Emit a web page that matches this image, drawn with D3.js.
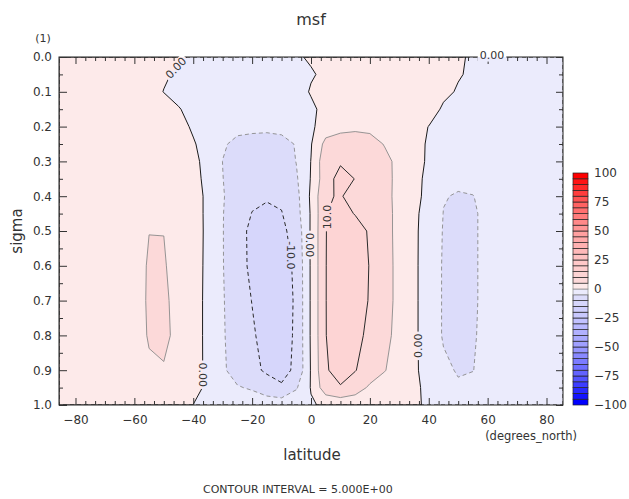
<!DOCTYPE html>
<html lang="en">
<head>
<meta charset="utf-8">
<title>msf</title>
<script src="https://d3js.org/d3.v7.min.js"></script>
<style>
  body { margin: 0; background: #fff; }
  svg { display: block; }
  text { fill: #333; font-family: 'DejaVu Sans', sans-serif; }
</style>
</head>
<body>
<svg width="629" height="499"></svg>
<script>
// grid: latitude columns, sigma rows
const lats = [-85.6, -80, -75, -70, -65, -60, -55, -50, -45, -40, -35, -30, -25, -20, -15, -10, -5, 0,
  5, 10, 15, 20, 25, 30, 35, 40, 45, 50, 55, 60, 65, 70, 75, 80, 85.6]
const sigmas = [0, 0.05, 0.1, 0.15, 0.2, 0.25, 0.3, 0.35, 0.4, 0.45, 0.5, 0.6, 0.7, 0.8, 0.9, 0.95, 1.0]

// meridional streamfunction, one row per sigma level
const msf = [
  [0.5, 1, 1.5, 1.5, 1.5, 1.5, 1.5, 1.2, 0.5, -0.4, -1.2, -1.5, -1.5, -1.5, -1.5, -1.2, -0.5, 0.5, 1.0, 1.2, 1.2, 1.2, 1.2, 1.2, 1.1, 1.0, 0.8, 0.3, -0.3, -0.8, -1, -1, -1, -1, -0.8],
  [1, 1.5, 2, 2, 2, 2, 2, 0.5, -0.6, -1.5, -2, -2, -2, -2, -2, -2, -1.5, -0.4, 0.8, 2, 2, 2, 2, 2, 2, 2, 2, 0.4, -0.8, -1.5, -1.5, -1.5, -1.5, -1.5, -1.2],
  [1.5, 2, 2.5, 2.5, 2.5, 2.5, 1.5, -0.1, -1.5, -2.5, -3, -3, -3, -3, -3, -3, -2, 0.4, 2, 3, 3, 3, 3, 3, 3, 3, 1.2, -0.5, -2, -2, -2, -2, -2, -2, -1.5],
  [1.5, 2, 2.5, 2.5, 2.5, 2.5, 2.5, 2, 0.3, -1.5, -3, -3.8, -3.8, -3.8, -3.8, -3.8, -3, -1, 1.5, 3.8, 3.8, 3.8, 3.8, 3.8, 3.8, 2.5, -0.8, -2.5, -2.5, -2.5, -2.5, -2.3, -2.2, -2, -1.8],
  [1.5, 2, 2.5, 2.5, 2.5, 2.5, 2.5, 2.5, 1.5, -0.6, -2.5, -3.8, -4.1, -4.2, -4.3, -4.1, -3.5, -0.8, 2.2, 3.8, 4.2, 4.0, 3.6, 3, 1.8, -0.1, -2, -2.5, -2.5, -2.5, -2.5, -2.3, -2.2, -2, -1.8],
  [1.5, 2, 2.5, 2.5, 2.5, 2.5, 2.5, 2.5, 2, 0.4, -1.8, -4.6, -5.8, -6.2, -6.3, -6, -4.8, -0.3, 6.5, 7, 7, 6.5, 4.8, 3, 1.5, -0.5, -2.5, -3, -2.8, -2.6, -2.5, -2.3, -2.2, -2, -1.8],
  [1.5, 2, 2.8, 2.8, 2.8, 2.8, 2.8, 2.8, 2.5, 1.2, -1.6, -5.05, -7, -7.8, -8, -7.5, -4.9, 0.1, 8.5, 9.5, 9.2, 8, 6, 4, 1.8, -0.7, -3, -3.5, -3.2, -2.8, -2.6, -2.4, -2.2, -2, -1.8],
  [1.5, 2, 2.8, 2.8, 2.8, 2.8, 2.8, 2.8, 2.5, 1.5, -1.3, -4.9, -7.5, -8.8, -9.3, -8.8, -5.6, 0.3, 8.2, 11.5, 9.9, 8.5, 6.3, 3.8, 1.0, -0.8, -3.5, -4.2, -3.8, -2.8, -2.6, -2.4, -2.2, -2, -1.8],
  [1.5, 2, 2.8, 2.8, 2.8, 2.8, 3.2, 3.2, 2.7, 1.8, -0.9, -4.6, -7.8, -9.3, -9.6, -9.2, -6.5, 0.8, 9.75, 10.2, 9.0, 8.8, 6.5, 3.5, 0.8, -0.8, -4.8, -5.3, -5.1, -3.8, -3, -2.5, -2.2, -2, -1.8],
  [1.5, 2, 2.8, 3, 3.2, 3.6, 4.5, 4.5, 3.5, 2, -1, -4.8, -8.2, -10.1, -10.8, -10.2, -7, 0.5, 9.8, 11.5, 9.8, 8.6, 6.4, 3.8, 0.6, -1.2, -5.1, -6.2, -5.3, -4.4, -3.2, -2.6, -2.2, -2, -1.8],
  [1.5, 2, 2.8, 3, 3.2, 3.6, 4.95, 4.95, 3.8, 2.1, -1, -4.8, -9, -10.6, -11.3, -11, -8.2, 0.6, 9.9, 12, 11.8, 9.5, 6.4, 3.8, 0.6, -1.5, -5.3, -6.6, -5.3, -4.4, -3.2, -2.6, -2.2, -2, -1.8],
  [1.5, 2, 2.8, 3, 3.2, 3.3, 5.4, 5.3, 3.6, 2.1, -1.1, -4.8, -8.3, -10.9, -12.3, -12, -9.1, 0.6, 9.9, 12.8, 12.5, 9.8, 6.6, 3.8, 0.6, -1.6, -5.5, -7, -5.3, -4.4, -3.2, -2.6, -2.2, -2, -1.8],
  [1.5, 2, 2.8, 3, 3.2, 3.3, 5.5, 6, 3.2, 1.9, -1.1, -4.6, -8, -10.1, -12.6, -12.5, -9.3, 0.6, 9.9, 13, 12.6, 9.6, 6.6, 3.8, 0.6, -1.6, -5.5, -7, -5.3, -4.4, -3.2, -2.6, -2.2, -2, -1.8],
  [1.5, 2, 2.8, 3, 3.2, 3.4, 5.3, 6.2, 3.5, 1.9, -1.1, -4.5, -7.5, -9.5, -11.5, -12, -9.3, 0.6, 9.9, 12.5, 11.5, 8.8, 6.2, 3.6, 0.6, -1.6, -5.5, -7, -5.2, -4.4, -3.2, -2.6, -2.2, -2, -1.8],
  [1.5, 2, 2.6, 2.8, 3, 3.3, 4.5, 4.6, 3.2, 1.8, -1, -4.2, -7.3, -9, -10.6, -11, -9.4, 0.4, 9.6, 11.5, 10.2, 7.8, 5.2, 3, 0.6, -1.4, -4, -5.4, -5.05, -4.2, -3, -2.5, -2.2, -2, -1.8],
  [1.2, 1.5, 2, 2.2, 2.4, 2.6, 3.3, 3.4, 2.5, 1.3, -0.8, -3.5, -4.6, -5.6, -8, -9.6, -5.5, 0.3, 8, 9.7, 7.5, 4.2, 3, 2, 0.8, -1, -3.2, -4.4, -4.4, -3.6, -2.8, -2.3, -2, -1.8, -1.6],
  [0.8, 1, 1.2, 1.3, 1.4, 1.5, 1.5, 1.5, 1.2, -0.05, -1, -1.5, -1.8, -1.8, -1.8, -1.8, -1.5, -0.5, 0.8, 1.5, 1.5, 1.5, 1.5, 1.5, 0.5, -0.5, -1.2, -1.2, -1.2, -1.2, -1.2, -1.2, -1.1, -1, -0.8]
]

const levels = d3.range(-100, 105, 5)
const latTicks = [-80, -60, -40, -20, 0, 20, 40, 60, 80]
const sigmaTicks = [0, 0.1, 0.2, 0.3, 0.4, 0.5, 0.6, 0.7, 0.8, 0.9, 1.0]
const barTicks = [-100, -75, -50, -25, 0, 25, 50, 75, 100]

// contour labels: where they sit on the lines
const labels = [
  { lat: -45.8, sig: 0.032, angle: -46, text: '0.00' },
  { lat: -36.9, sig: 0.913, angle: 90, text: '0.00' },
  { lat: -0.4, sig: 0.54, angle: 90, text: '0.00' },
  { lat: -7.0, sig: 0.57, angle: 90, text: '-10.0' },
  { lat: 5.6, sig: 0.46, angle: -90, text: '10.0' },
  { lat: 36.4, sig: 0.83, angle: -90, text: '0.00' },
  { lat: 61.5, sig: -0.004, angle: 0, text: '0.00' }
]

const svg = d3.select('svg')
const x = d3.scaleLinear().domain([-85.6, 85.6]).range([59, 563])
const y = d3.scaleLinear().domain([0, 1]).range([57, 405])

const posColor = d3.scaleLinear()
  .domain([2.5, 7.5, 25, 50, 75, 97.5])
  .range(['#fdeaea', '#fcd9d9', '#ffc6c6', '#ff9c9c', '#ff5c5c', '#ff0000'])
const negColor = d3.scaleLinear()
  .domain([-2.5, -7.5, -25, -50, -75, -97.5])
  .range(['#ebebfc', '#dcdcfa', '#c6c6ff', '#9c9cff', '#5c5cff', '#0000ff'])
const bandColor = (mid) => (mid > 0 ? posColor(mid) : negColor(mid))

// grid index -> lat / sigma
const nx = lats.length
const ny = sigmas.length
const values = msf.flat()
const colLat = d3.scaleLinear().domain(d3.range(nx)).range(lats).clamp(true)
const rowSig = d3.scaleLinear().domain(d3.range(ny)).range(sigmas).clamp(true)
const project = ([cx, cy]) => [x(colLat(cx - 0.5)), y(rowSig(cy - 0.5))]
const toPath = (geom) =>
  geom.coordinates
    .map((poly) =>
      poly.map((ring) => 'M' + ring.map((p) => project(p).map((v) => v.toFixed(2)).join(',')).join('L') + 'Z').join('')
    )
    .join('')

const contours = d3.contours().size([nx, ny]).thresholds(levels)(values)

const defs = svg.append('defs')
defs.append('clipPath').attr('id', 'plotclip')
  .append('rect').attr('x', 59).attr('y', 57).attr('width', 504).attr('height', 348)
const mask = defs.append('mask').attr('id', 'lblmask')
  .attr('maskUnits', 'userSpaceOnUse').attr('x', 0).attr('y', 0).attr('width', 629).attr('height', 499)
mask.append('rect').attr('width', 629).attr('height', 499).attr('fill', 'white')

const plot = svg.append('g').attr('clip-path', 'url(#plotclip)')

plot.append('g')
  .selectAll('path')
  .data(contours)
  .join('path')
  .attr('d', (d) => toPath(d))
  .attr('fill', (d) => bandColor(d.value + 2.5))

const [vmin, vmax] = d3.extent(values)
const masked = svg.append('g').attr('mask', 'url(#lblmask)')

masked.append('g')
  .attr('clip-path', 'url(#plotclip)')
  .selectAll('path')
  .data(contours.filter((d) => d.value > vmin && d.value < vmax))
  .join('path')
  .attr('d', (d) => toPath(d))
  .attr('fill', 'none')
  .attr('stroke', (d) => (d.value === 0 ? '#1a1a1a' : d.value % 10 === 0 ? '#2a2a2a' : '#8a8a8a'))
  .attr('stroke-width', (d) => (d.value % 10 === 0 ? 1 : 0.9))
  .attr('stroke-dasharray', (d) => (d.value < 0 ? '4,3' : null))

// frame and ticks
masked.append('rect')
  .attr('x', 59).attr('y', 57).attr('width', 504).attr('height', 348)
  .attr('fill', 'none').attr('stroke', '#222').attr('stroke-width', 1)

const minorLat = d3.range(-80, 81, 20 / 6).filter((v) => !latTicks.some((t) => Math.abs(t - v) < 0.01))
const minorSig = [0.05, 0.15, 0.25, 0.35, 0.45, 0.55, 0.65, 0.75, 0.85, 0.95]

function ticks(axis, pos, vals, size) {
  const g = masked.append('g').attr('transform', pos)
    .call(axis.tickValues(vals).tickSize(size).tickFormat(''))
  g.select('.domain').remove()
  g.selectAll('line').attr('stroke', '#333')
}
ticks(d3.axisBottom(x), 'translate(0,405)', latTicks, -7)
ticks(d3.axisBottom(x), 'translate(0,405)', minorLat, -4)
ticks(d3.axisTop(x), 'translate(0,57)', latTicks, -7)
ticks(d3.axisTop(x), 'translate(0,57)', minorLat, -4)
ticks(d3.axisLeft(y), 'translate(59,0)', sigmaTicks, -8)
ticks(d3.axisLeft(y), 'translate(59,0)', minorSig, -4)
ticks(d3.axisRight(y), 'translate(563,0)', sigmaTicks, -7)
ticks(d3.axisRight(y), 'translate(563,0)', minorSig, -4)

// tick labels
const xl = svg.append('g').attr('transform', 'translate(0,405)')
  .call(d3.axisBottom(x).tickValues(latTicks).tickSize(0).tickPadding(10).tickFormat(d3.format('d')))
xl.select('.domain').remove()
xl.selectAll('text').attr('font-size', 12).attr('font-family', "'DejaVu Sans', sans-serif").attr('fill', '#333')

const yl = svg.append('g').attr('transform', 'translate(59,0)')
  .call(d3.axisLeft(y).tickValues(sigmaTicks).tickSize(0).tickPadding(7).tickFormat(d3.format('.1f')))
yl.select('.domain').remove()
yl.selectAll('text').attr('font-size', 12).attr('font-family', "'DejaVu Sans', sans-serif").attr('fill', '#333')

// contour labels and their gaps in the lines
const lblG = svg.append('g')
labels.forEach((l) => {
  const px = x(l.lat)
  const py = y(l.sig)
  const t = lblG.append('text')
    .attr('transform', `translate(${px},${py}) rotate(${l.angle})`)
    .attr('text-anchor', 'middle')
    .attr('dominant-baseline', 'central')
    .attr('font-size', 11)
    .text(l.text)
  const w = t.node().getComputedTextLength() + 4
  mask.append('rect')
    .attr('x', -w / 2).attr('y', -6).attr('width', w).attr('height', 12)
    .attr('transform', `translate(${px},${py}) rotate(${l.angle})`)
    .attr('fill', 'black')
})

// colour bar
const cb = d3.scaleLinear().domain([-100, 100]).range([405, 173])
svg.append('g')
  .selectAll('rect')
  .data(levels.slice(0, -1))
  .join('rect')
  .attr('x', 573)
  .attr('width', 15)
  .attr('y', (d) => cb(d + 5))
  .attr('height', (d) => cb(d) - cb(d + 5))
  .attr('fill', (d) => bandColor(d + 2.5))
  .attr('stroke', (d) => (Math.abs(d + 2.5) < 5 ? '#888' : '#222'))
  .attr('stroke-width', 0.7)

const cl = svg.append('g').attr('transform', 'translate(588,0)')
  .call(d3.axisRight(cb).tickValues(barTicks).tickSize(0).tickPadding(6).tickFormat(d3.format('d')))
cl.select('.domain').remove()
cl.selectAll('text').attr('font-size', 12).attr('font-family', "'DejaVu Sans', sans-serif").attr('fill', '#333')

// titles
svg.append('text').attr('x', 311).attr('y', 25).attr('text-anchor', 'middle').attr('font-size', 16).text('msf')
svg.append('text').attr('x', 43).attr('y', 42).attr('text-anchor', 'middle').attr('font-size', 11).text('(1)')
svg.append('text').attr('transform', 'translate(22,231) rotate(-90)').attr('text-anchor', 'middle').attr('font-size', 15).text('sigma')
svg.append('text').attr('x', 312).attr('y', 460).attr('text-anchor', 'middle').attr('font-size', 15).text('latitude')
svg.append('text').attr('x', 577).attr('y', 440).attr('text-anchor', 'end').attr('font-size', 11.5).text('(degrees_north)')
svg.append('text').attr('x', 203).attr('y', 493).attr('font-size', 11).text('CONTOUR INTERVAL = 5.000E+00')
</script>
</body>
</html>
